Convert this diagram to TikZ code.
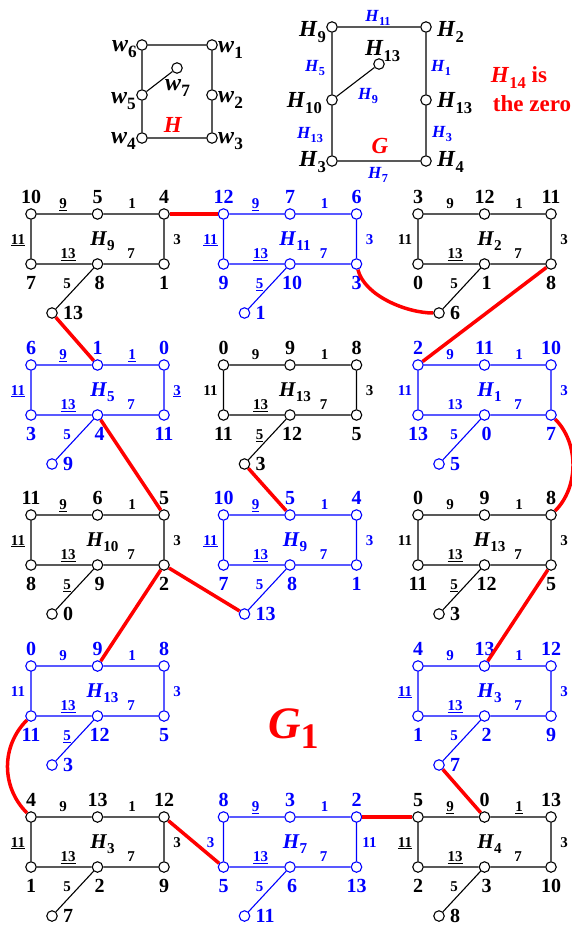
\documentclass[tikz,border=0pt]{standalone}
\usepackage{fontspec}
\setmainfont{Liberation Serif}
\usepackage{graphicx}
\newcommand\sbs[1]{\raisebox{-0.28em}{\scalebox{0.72}{#1}}}
\newcommand\fs[1]{\fontsize{#1}{#1}\selectfont}
\newcommand\un[1]{\underline{#1}}
\tikzset{
 vtx/.style={circle,draw,fill=white,minimum size=10.5pt,inner sep=0pt,line width=1.1pt},
 edg/.style={line width=1.1pt},
 vlab/.style={font=\fs{20}\bfseries,inner sep=0pt,anchor=base},
 plab/.style={font=\fs{20}\bfseries,inner sep=0pt,anchor=base west},
 elab/.style={font=\fs{15}\bfseries,inner sep=0pt,anchor=base},
 clab/.style={font=\fs{21}\bfseries,inner sep=0pt,anchor=base},
 glab/.style={font=\fs{23}\bfseries,inner sep=0pt},
 wlab/.style={font=\fs{24}\bfseries,inner sep=0pt},
 gelab/.style={font=\fs{17}\bfseries,inner sep=0pt,anchor=base,text=blue},
 rl/.style={red,line width=3.5pt},
 bk/.style={black},
 bl/.style={blue},
}
\newcommand\blk[4]{%
 \def\bn{#1}\def\bx{#2}\def\by{#3}%
 \node[vtx] (#1-tl) at (#2-66.5,#3) {};
 \node[vtx] (#1-tm) at (#2,#3) {};
 \node[vtx] (#1-tr) at (#2+66.5,#3) {};
 \node[vtx] (#1-bl) at (#2-66.5,#3+50) {};
 \node[vtx] (#1-bm) at (#2,#3+50) {};
 \node[vtx] (#1-br) at (#2+66.5,#3+50) {};
 \node[vtx] (#1-p) at (#2-45.5,#3+99) {};
 \draw[edg] (#1-tl)--(#1-tm)--(#1-tr)--(#1-br)--(#1-bm)--(#1-bl)--(#1-tl) (#1-bm)--(#1-p);
 \node[clab] (#1-name) at (#2+5,#3+31) {\textit{H}\sbs{#4}};
}
\newcommand\vl[7]{%
 \node[vlab] (\bn-v1) at (\bx-66.5,\by-10.5) {#1};
 \node[vlab] (\bn-v2) at (\bx,\by-10.5) {#2};
 \node[vlab] (\bn-v3) at (\bx+66.5,\by-10.5) {#3};
 \node[vlab] (\bn-v4) at (\bx-66.5,\by+75.5) {#4};
 \node[vlab] (\bn-v5) at (\bx+2,\by+75.5) {#5};
 \node[vlab] (\bn-v6) at (\bx+66.5,\by+75.5) {#6};
 \node[plab] (\bn-v7) at (\bx-34.5,\by+105.5) {#7};
}
\newcommand\el[7]{%
 \node[elab] (\bn-e1) at (\bx-34.5,\by-5.5) {#1};
 \node[elab] (\bn-e2) at (\bx+34.5,\by-5.5) {#2};
 \node[elab] (\bn-e3) at (\bx+79.5,\by+30) {#3};
 \node[elab] (\bn-e4) at (\bx-79.5,\by+30) {#4};
 \node[elab] (\bn-e5) at (\bx-29.5,\by+44.5) {#5};
 \node[elab] (\bn-e6) at (\bx+33.5,\by+44.5) {#6};
 \node[elab] (\bn-e7) at (\bx-30.5,\by+74.5) {#7};
}
\begin{document}
\begin{tikzpicture}[x=1pt,y=-1pt]
\useasboundingbox (0,0) rectangle (572,926);
% ---- graph H ----
\node[vtx] (w6) at (142,45) {};
\node[vtx] (w1) at (212,45) {};
\node[vtx] (w7) at (177,68) {};
\node[vtx] (w5) at (142,95) {};
\node[vtx] (w2) at (212,95) {};
\node[vtx] (w4) at (142,138) {};
\node[vtx] (w3) at (212,138) {};
\draw[edg] (w6)--(w1)--(w2)--(w3)--(w4)--(w5)--(w6) (w5)--(w7);
\node[wlab,anchor=base east] (lw6) at (137,51) {\textit{w}\sbs{6}};
\node[wlab,anchor=base west] (lw1) at (218,52) {\textit{w}\sbs{1}};
\node[wlab,anchor=base west] (lw7) at (165,90) {\textit{w}\sbs{7}};
\node[wlab,anchor=base east] (lw5) at (136,103) {\textit{w}\sbs{5}};
\node[wlab,anchor=base west] (lw2) at (218,102) {\textit{w}\sbs{2}};
\node[wlab,anchor=base east] (lw4) at (136,143) {\textit{w}\sbs{4}};
\node[wlab,anchor=base west] (lw3) at (218,143) {\textit{w}\sbs{3}};
\node[glab,anchor=base,text=red] (lH) at (173,132) {\textit{H}};
% ---- graph G ----
\node[vtx] (g9) at (332,27) {};
\node[vtx] (g2) at (426,27) {};
\node[vtx] (g13p) at (379,64) {};
\node[vtx] (g10) at (332,100) {};
\node[vtx] (g13) at (426,100) {};
\node[vtx] (g3) at (332,161) {};
\node[vtx] (g4) at (426,161) {};
\draw[edg] (g9)--(g2)--(g13)--(g4)--(g3)--(g10)--(g9) (g10)--(g13p);
\node[glab,anchor=base east] (lg9) at (326,36) {\textit{H}\sbs{9}};
\node[glab,anchor=base west] (lg2) at (437,36) {\textit{H}\sbs{2}};
\node[glab,anchor=base west] (lg13p) at (365,55) {\textit{H}\sbs{13}};
\node[glab,anchor=base east] (lg10) at (322,107) {\textit{H}\sbs{10}};
\node[glab,anchor=base west] (lg13) at (437,107) {\textit{H}\sbs{13}};
\node[glab,anchor=base east] (lg3) at (326,166) {\textit{H}\sbs{3}};
\node[glab,anchor=base west] (lg4) at (437,166) {\textit{H}\sbs{4}};
\node[gelab] (ge1) at (378,21) {\textit{H}\sbs{11}};
\node[gelab] (ge2) at (315,71) {\textit{H}\sbs{5}};
\node[gelab] (ge3) at (441,71) {\textit{H}\sbs{1}};
\node[gelab] (ge4) at (368,99) {\textit{H}\sbs{9}};
\node[gelab] (ge5) at (310,138) {\textit{H}\sbs{13}};
\node[gelab] (ge6) at (442,137) {\textit{H}\sbs{3}};
\node[gelab] (ge7) at (378,178) {\textit{H}\sbs{7}};
\node[glab,anchor=base,text=red] (lG) at (380,153) {\textit{G}};
\node[font=\fs{23}\bfseries,text=red,inner sep=0pt,anchor=base] (z1) at (519,82) {\textit{H}\sbs{14} is};
\node[font=\fs{23}\bfseries,text=red,inner sep=0pt,anchor=base] (z2) at (532,111) {the zero};
% ---- blocks ----
\begin{scope}[bk]
\blk{A}{97.5}{214}{9}\vl{10}{5}{4}{7}{8}{1}{13}\el{\un{9}}{1}{3}{\un{11}}{\un{13}}{7}{5}
\end{scope}
\begin{scope}[bl]
\blk{B}{290}{214}{11}\vl{12}{7}{6}{9}{10}{3}{1}\el{\un{9}}{1}{3}{\un{11}}{\un{13}}{7}{\un{5}}
\end{scope}
\begin{scope}[bk]
\blk{C}{484.5}{214}{2}\vl{3}{12}{11}{0}{1}{8}{6}\el{9}{1}{3}{11}{\un{13}}{7}{5}
\end{scope}
\begin{scope}[bl]
\blk{D}{97.5}{365}{5}\vl{6}{1}{0}{3}{4}{11}{9}\el{\un{9}}{\un{1}}{\un{3}}{\un{11}}{\un{13}}{7}{5}
\end{scope}
\begin{scope}[bk]
\blk{E}{290}{365}{13}\vl{0}{9}{8}{11}{12}{5}{3}\el{9}{1}{3}{11}{\un{13}}{7}{\un{5}}
\end{scope}
\begin{scope}[bl]
\blk{F}{484.5}{365}{1}\vl{2}{11}{10}{13}{0}{7}{5}\el{9}{1}{3}{11}{13}{7}{5}
\end{scope}
\begin{scope}[bk]
\blk{G}{97.5}{515}{10}\vl{11}{6}{5}{8}{9}{2}{0}\el{\un{9}}{1}{3}{\un{11}}{\un{13}}{7}{\un{5}}
\end{scope}
\begin{scope}[bl]
\blk{I}{290}{515}{9}\vl{10}{5}{4}{7}{8}{1}{13}\el{\un{9}}{1}{3}{\un{11}}{\un{13}}{7}{5}
\end{scope}
\begin{scope}[bk]
\blk{J}{484.5}{515}{13}\vl{0}{9}{8}{11}{12}{5}{3}\el{9}{1}{3}{11}{\un{13}}{7}{\un{5}}
\end{scope}
\begin{scope}[bl]
\blk{K}{97.5}{666}{13}\vl{0}{9}{8}{11}{12}{5}{3}\el{9}{1}{3}{11}{\un{13}}{7}{\un{5}}
\end{scope}
\begin{scope}[bl]
\blk{L}{484.5}{666}{3}\vl{4}{13}{12}{1}{2}{9}{7}\el{9}{1}{3}{\un{11}}{\un{13}}{7}{5}
\end{scope}
\begin{scope}[bk]
\blk{M}{97.5}{817}{3}\vl{4}{13}{12}{1}{2}{9}{7}\el{9}{1}{3}{\un{11}}{\un{13}}{7}{5}
\end{scope}
\begin{scope}[bl]
\blk{N}{290}{817}{7}\vl{8}{3}{2}{5}{6}{13}{11}\el{\un{9}}{1}{11}{3}{\un{13}}{7}{5}
\end{scope}
\begin{scope}[bk]
\blk{O}{484.5}{817}{4}\vl{5}{0}{13}{2}{3}{10}{8}\el{\un{9}}{\un{1}}{3}{\un{11}}{\un{13}}{7}{5}
\end{scope}
% ---- red connectors ----
\draw[rl] (A-tr) -- (B-tl);
\draw[rl] (B-br) .. controls +(8,32) and +(-32,0) .. (C-p);
\draw[rl] (C-br) -- (F-tl);
\draw[rl] (A-p) -- (D-tm);
\draw[rl] (D-bm) -- (G-tr);
\draw[rl] (E-p) -- (I-tm);
\draw[rl] (F-br) .. controls +(28,28) and +(28,-28) .. (J-tr);
\draw[rl] (G-br) -- (I-p);
\draw[rl] (G-br) -- (K-tm);
\draw[rl] (J-br) -- (L-tm);
\draw[rl] (K-bl) .. controls +(-30,30) and +(-30,-30) .. (M-tl);
\draw[rl] (L-p) -- (O-tm);
\draw[rl] (M-tr) -- (N-bl);
\draw[rl] (N-tr) -- (O-tl);
% ---- G1 ----
\node[font=\fs{45}\bfseries,text=red,inner sep=0pt,anchor=base west] (G1) at (268,738) {\textit{G}\raisebox{-10pt}{\fs{36}1}};
\end{tikzpicture}
\end{document}
